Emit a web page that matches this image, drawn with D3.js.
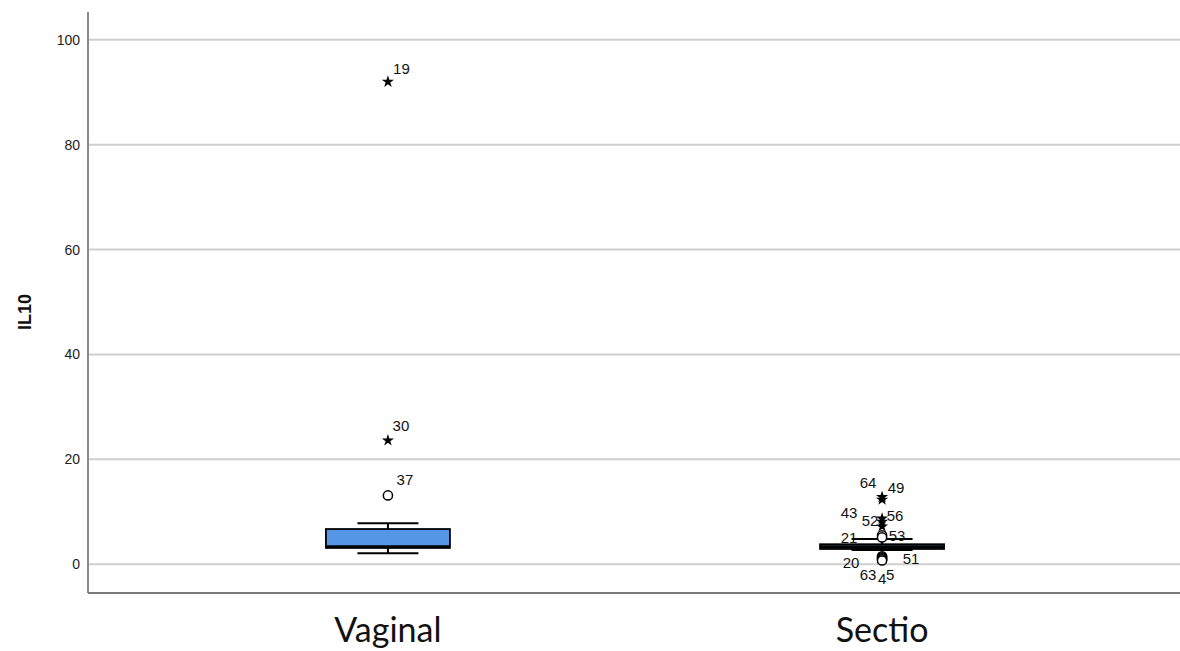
<!DOCTYPE html>
<html>
<head>
<meta charset="utf-8">
<script src="https://cdn.jsdelivr.net/npm/d3@7"></script>
<style>
  html, body { margin: 0; padding: 0; background: #fff; }
  svg { display: block; }
</style>
</head>
<body>
<svg id="chart" width="1180" height="651"></svg>
<script>
// Groups and their box summaries (IL10)
const groups = ["Vaginal", "Sectio"];
const q1 = [3.1, 2.9];
const median = [3.3, 3.3];
const q3 = [6.7, 3.8];
const whiskerLow = [2.1, 2.7];
const whiskerHigh = [7.8, 4.8];

// Outlying cases: group, case number, value, kind ("o" = outlier, "x" = extreme)
const outlierGroup = ["Vaginal", "Vaginal", "Vaginal",
  "Sectio", "Sectio", "Sectio", "Sectio", "Sectio", "Sectio",
  "Sectio", "Sectio", "Sectio", "Sectio", "Sectio", "Sectio"];
const outlierCase = [19, 30, 37, 64, 49, 56, 52, 43, 53, 21, 51, 20, 5, 63, 4];
const outlierValue = [92.0, 23.6, 13.1, 12.8, 12.3, 8.7, 8.1, 7.2, 5.5, 5.1, 1.5, 1.3, 1.1, 0.9, 0.7];
const outlierKind = ["x", "x", "o", "x", "x", "x", "x", "x", "o", "o", "o", "o", "o", "o", "o"];

const yTicks = [0, 20, 40, 60, 80, 100];
const yTitle = "IL10";

// Case-label placement around crowded markers: offset of the label centre from the marker
const labelPlace = {
  19: [13.5, -13.5], 30: [13, -14.5], 37: [17, -15.5],
  64: [-14, -14], 49: [14, -12.5], 56: [13, -2.5],
  52: [-12, -1.5], 43: [-33, -13.5], 53: [15, 0.5],
  21: [-33, 0.5], 51: [29, 2], 20: [-31, 5.5],
  5: [8, 16.5], 63: [-14, 15.5], 4: [0, 18.5]
};

const svg = d3.select("#chart");
const W = 1180;
const plotLeft = 88, plotBottom = 593, plotTop = 12;

const y = d3.scaleLinear().domain([-5.5, 105.3]).range([plotBottom, plotTop]);
const x = d3.scalePoint().domain(groups).range([plotLeft, W + 2]).padding(0.607);

// Gridlines
svg.append("g").selectAll("line").data(yTicks).join("line")
  .attr("x1", plotLeft).attr("x2", W)
  .attr("y1", d => y(d)).attr("y2", d => y(d))
  .attr("stroke", "#cfcfcf").attr("stroke-width", 2);

// Y axis with labels only
const yAxis = d3.axisLeft(y).tickValues(yTicks).tickSize(0).tickPadding(8);
const ya = svg.append("g").attr("transform", `translate(${plotLeft},0)`).call(yAxis);
ya.select(".domain").remove();
ya.selectAll("text")
  .attr("font-family", "Liberation Sans, Arial, sans-serif")
  .attr("font-size", 14).attr("fill", "#222");

// Axis lines
svg.append("line").attr("x1", plotLeft).attr("x2", plotLeft).attr("y1", plotTop).attr("y2", plotBottom)
  .attr("stroke", "#8a8a8a").attr("stroke-width", 2);
svg.append("line").attr("x1", plotLeft).attr("x2", W).attr("y1", plotBottom).attr("y2", plotBottom)
  .attr("stroke", "#7a7a7a").attr("stroke-width", 2);

// Y title
svg.append("text")
  .attr("transform", `translate(31,312) rotate(-90)`)
  .attr("text-anchor", "middle")
  .attr("font-family", "Liberation Sans, Arial, sans-serif")
  .attr("font-weight", "bold").attr("font-size", 18).attr("fill", "#111")
  .text(yTitle);

// Category labels
svg.append("g").selectAll("text").data(groups).join("text")
  .attr("x", d => x(d)).attr("y", 642)
  .attr("text-anchor", "middle")
  .attr("font-family", "Lato, 'Open Sans', sans-serif")
  .attr("font-size", 34).attr("fill", "#111")
  .text(d => d);

// Boxes
const boxW = 124, capW = 61;
const boxes = svg.append("g");
groups.forEach((g, i) => {
  const cx = x(g);
  const b = boxes.append("g");
  // whisker stems
  b.append("line").attr("x1", cx).attr("x2", cx)
    .attr("y1", y(q3[i])).attr("y2", y(whiskerHigh[i]))
    .attr("stroke", "#000").attr("stroke-width", 2);
  b.append("line").attr("x1", cx).attr("x2", cx)
    .attr("y1", y(q1[i])).attr("y2", y(whiskerLow[i]))
    .attr("stroke", "#000").attr("stroke-width", 2);
  // caps
  [whiskerHigh[i], whiskerLow[i]].forEach(v => {
    b.append("line").attr("x1", cx - capW / 2).attr("x2", cx + capW / 2)
      .attr("y1", y(v)).attr("y2", y(v))
      .attr("stroke", "#000").attr("stroke-width", 2);
  });
  // box
  b.append("rect")
    .attr("x", cx - boxW / 2).attr("width", boxW)
    .attr("y", y(q3[i])).attr("height", y(q1[i]) - y(q3[i]))
    .attr("fill", "#5596e6").attr("stroke", "#000").attr("stroke-width", 1.8);
  // median
  b.append("line").attr("x1", cx - boxW / 2).attr("x2", cx + boxW / 2)
    .attr("y1", y(median[i])).attr("y2", y(median[i]))
    .attr("stroke", "#000").attr("stroke-width", 3);
});

// Outlier markers and case labels
const pts = outlierCase.map((c, i) => ({
  id: c, g: outlierGroup[i], v: outlierValue[i], k: outlierKind[i]
}));
const star = d3.symbol().type(d3.symbolStar).size(46);
const mk = svg.append("g");
pts.forEach(p => {
  const cx = x(p.g), cy = y(p.v);
  if (p.k === "o") {
    mk.append("circle").attr("cx", cx).attr("cy", cy).attr("r", 4.6)
      .attr("fill", "#fff").attr("stroke", "#000").attr("stroke-width", 1.5);
  } else {
    mk.append("path").attr("d", star()).attr("transform", `translate(${cx},${cy})`)
      .attr("fill", "#000");
  }
  const lp = labelPlace[p.id];
  mk.append("text")
    .attr("x", cx + lp[0]).attr("y", cy + lp[1])
    .attr("dy", "0.36em")
    .attr("text-anchor", "middle")
    .attr("font-family", "Liberation Sans, Arial, sans-serif")
    .attr("font-size", 15).attr("fill", "#111")
    .text(p.id);
});
</script>
</body>
</html>
